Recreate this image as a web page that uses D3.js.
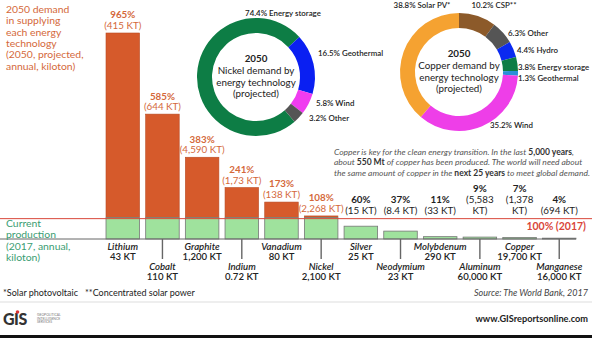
<!DOCTYPE html>
<html>
<head>
<meta charset="utf-8">
<script src="https://cdn.jsdelivr.net/npm/d3@7"></script>
<style>
  body { margin: 0; background: #fff; }
  svg { display: block; font-family: Lato, "Open Sans", sans-serif; }
</style>
</head>
<body>
<div id="vis"></div>
<script>
const FRAME_WIDTH = 592;
const FRAME_HEIGHT = 338;

// minerals, 2050 demand as % of 2017 production
const MINERALS = ["Lithium", "Cobalt", "Graphite", "Indium", "Vanadium", "Nickel",
                  "Silver", "Neodymium", "Molybdenum", "Aluminum", "Copper", "Manganese"];
const DEMAND_PCT = [965, 585, 383, 241, 173, 108, 60, 37, 11, 9, 7, 4];
const DEMAND_KT = ["415 KT", "644 KT", "4,590 KT", "1,73 KT", "138 KT", "2,268 KT",
                   "15 KT", "8.4 KT", "33 KT", "5,583\nKT", "1,378\nKT", "694 KT"];
const CURRENT_KT = ["43 KT", "110 KT", "1,200 KT", "0.72 KT", "80 KT", "2,100 KT",
                    "25 KT", "23 KT", "290 KT", "60,000 KT", "19,700 KT", "16,000 KT"];

// donuts
const NICKEL_USES = ["Energy storage", "Geothermal", "Wind", "Other"];
const NICKEL_PCT = [74.4, 16.5, 5.8, 3.2];
const COPPER_USES = ["CSP**", "Other", "Hydro", "Energy storage", "Geothermal", "Wind", "Solar PV*"];
const COPPER_PCT = [10.2, 6.3, 4.4, 3.8, 1.3, 35.2, 38.8];

const ORANGE = "#d65a2b";
const ORANGE_TXT = "#d4683a";
const GREEN_TXT = "#3a9d72";
const LIGHT_GREEN = "#9fe29d";

const svg = d3.select("#vis").append("svg")
  .attr("width", FRAME_WIDTH)
  .attr("height", FRAME_HEIGHT);

const X_SCALE = d3.scaleBand()
  .domain(MINERALS)
  .range([106, 576])
  .paddingInner(0.155)
  .paddingOuter(0);

const BASE_Y = 239;
const Y_SCALE = d3.scaleLinear()
  .domain([0, 965])
  .range([BASE_Y, 33]);

const data = MINERALS.map((m, i) => ({
  name: m, pct: DEMAND_PCT[i], demand: DEMAND_KT[i], current: CURRENT_KT[i], i: i
}));

// orange part (above 100%)
svg.selectAll("rect.over")
  .data(data.filter(d => d.pct > 100))
  .enter().append("rect")
    .attr("class", "over")
    .attr("x", d => X_SCALE(d.name))
    .attr("y", d => Y_SCALE(d.pct))
    .attr("width", X_SCALE.bandwidth())
    .attr("height", d => Y_SCALE(100) - Y_SCALE(d.pct))
    .attr("fill", ORANGE)
    .attr("stroke", "#b84a22")
    .attr("stroke-width", 0.6);

// green part (up to 100%)
svg.selectAll("rect.under")
  .data(data)
  .enter().append("rect")
    .attr("class", "under")
    .attr("x", d => X_SCALE(d.name))
    .attr("y", d => Y_SCALE(Math.min(100, d.pct)))
    .attr("width", X_SCALE.bandwidth())
    .attr("height", d => BASE_Y - Y_SCALE(Math.min(100, d.pct)))
    .attr("fill", LIGHT_GREEN)
    .attr("stroke", "#777")
    .attr("stroke-width", 0.8);

// 100% line and baseline
svg.append("line")
  .attr("x1", 0).attr("x2", FRAME_WIDTH)
  .attr("y1", Y_SCALE(100) + 1).attr("y2", Y_SCALE(100) + 1)
  .attr("stroke", "#d9463a").attr("stroke-width", 1);

svg.append("line")
  .attr("x1", 0).attr("x2", 576)
  .attr("y1", BASE_Y).attr("y2", BASE_Y)
  .attr("stroke", "#666").attr("stroke-width", 1);

svg.append("text")
  .attr("x", 586).attr("y", 230)
  .attr("text-anchor", "end")
  .attr("font-size", 10.5).attr("font-weight", "bold")
  .attr("fill", "#d9463a")
  .text("100% (2017)");

// value labels above bars
const labels = svg.selectAll("g.lab")
  .data(data)
  .enter().append("g")
    .attr("class", "lab")
    .attr("transform", d => "translate(" + (X_SCALE(d.name) + X_SCALE.bandwidth() / 2) + "," +
          (Math.min(Y_SCALE(d.pct), Y_SCALE(100)) - 4) + ")");

labels.each(function(d) {
  const lines = [d.pct + "%"].concat(("(" + d.demand + ")").split("\n"));
  const col = d.pct > 100 ? ORANGE_TXT : "#222";
  d3.select(this).selectAll("text")
    .data(lines)
    .enter().append("text")
      .attr("y", (l, j) => (j - lines.length + 1) * 10.6)
      .attr("text-anchor", "middle")
      .attr("font-size", 9.8)
      .attr("font-weight", (l, j) => j === 0 ? "bold" : "normal")
      .attr("fill", col)
      .text(l => l);
});

// names below bars, alternating rows
svg.selectAll("line.tick")
  .data(data.filter(d => d.i % 2 === 1))
  .enter().append("line")
    .attr("x1", d => X_SCALE(d.name) + X_SCALE.bandwidth() / 2)
    .attr("x2", d => X_SCALE(d.name) + X_SCALE.bandwidth() / 2)
    .attr("y1", BASE_Y).attr("y2", 259)
    .attr("stroke", "#666").attr("stroke-width", 1.4);

const names = svg.selectAll("g.nm")
  .data(data)
  .enter().append("g")
    .attr("class", "nm")
    .attr("transform", d => "translate(" + (X_SCALE(d.name) + X_SCALE.bandwidth() / 2) + "," +
          (d.i % 2 === 0 ? 249.5 : 269.5) + ")");

names.append("text")
  .attr("text-anchor", "middle")
  .attr("font-size", 9.6)
  .attr("font-style", "italic")
  .attr("font-weight", 600)
  .attr("fill", "#222")
  .text(d => d.name);

names.append("text")
  .attr("y", 10)
  .attr("text-anchor", "middle")
  .attr("font-size", 9.6)
  .attr("font-weight", 600)
  .attr("fill", "#222")
  .text(d => d.current);

// left side titles
const topTitle = ["2050 demand", "in supplying", "each energy", "technology", "(2050, projected,", "annual, kiloton)"];
svg.selectAll("text.tt")
  .data(topTitle)
  .enter().append("text")
    .attr("class", "tt")
    .attr("x", 6)
    .attr("y", (d, i) => 13 + i * 11.3)
    .attr("font-size", 10.4)
    .attr("fill", ORANGE_TXT)
    .text(d => d);

const botTitle = ["Current", "production", "(2017, annual,", "kiloton)"];
svg.selectAll("text.bt")
  .data(botTitle)
  .enter().append("text")
    .attr("class", "bt")
    .attr("x", 6)
    .attr("y", (d, i) => 227 + i * 11 + (i > 1 ? 1 : 0))
    .attr("font-size", 10.4)
    .attr("fill", GREEN_TXT)
    .text(d => d);

// donut charts
function donut(cx, cy, rOut, rIn, values, names, colors, startDeg, title, labelPos) {
  const pie = d3.pie().sort(null)
    .startAngle(startDeg * Math.PI / 180)
    .endAngle(startDeg * Math.PI / 180 + 2 * Math.PI);
  const arc = d3.arc().innerRadius(rIn).outerRadius(rOut);
  const g = svg.append("g").attr("transform", "translate(" + cx + "," + cy + ")");
  g.selectAll("path")
    .data(pie(values))
    .enter().append("path")
      .attr("d", arc)
      .attr("fill", (d, i) => colors[i]);
  g.selectAll("text.ct")
    .data(title)
    .enter().append("text")
      .attr("class", "ct")
      .attr("y", (d, i) => -15 + i * 11.8)
      .attr("text-anchor", "middle")
      .attr("font-size", 9.8)
      .attr("font-weight", (d, i) => i === 0 ? "bold" : "normal")
      .attr("fill", "#222")
      .text(d => d);
  values.forEach((v, i) => {
    const p = labelPos[i];
    svg.append("text")
      .attr("x", p[0]).attr("y", p[1])
      .attr("text-anchor", p[2])
      .attr("font-size", 7.9)
      .attr("font-weight", 600)
      .attr("fill", "#222")
      .text(v + "% " + names[i]);
  });
}

donut(256, 77, 59, 44, NICKEL_PCT, NICKEL_USES,
      ["#0d7d45", "#0a1ff2", "#f03cf0", "#555555"],
      47 - 74.4 * 3.6,
      ["2050", "Nickel demand by", "energy technology", "(projected)"],
      [[283, 16, "middle"], [318, 56, "start"], [316, 106, "start"], [309, 121, "start"]]);

donut(459, 72, 59, 44, COPPER_PCT, COPPER_USES,
      ["#8c5a2a", "#555555", "#0a2af0", "#0d7d45", "#2a8fd8", "#ee3ee8", "#f5a231"],
      0,
      ["2050", "Copper demand by", "energy technology", "(projected)"],
      [[494, 8, "middle"], [508, 36, "start"], [517, 53, "start"], [518, 70, "start"],
       [518, 81, "start"], [490, 128, "start"], [422, 8, "middle"]]);

// copper paragraph
const para = svg.append("g").attr("font-size", 8.5).attr("fill", "#555").attr("font-style", "italic");
const paraLines = [
  [["Copper is key for the clean energy transition. In the last ", false], ["5,000 years", true], [",", false]],
  [["about ", false], ["550 Mt", true], [" of copper has been produced. The world will need about", false]],
  [["the same amount of copper in the ", false], ["next 25 years", true], [" to meet global demand.", false]]
];
paraLines.forEach((ln, i) => {
  const t = para.append("text").attr("x", 334).attr("y", 155 + i * 10.4);
  ln.forEach(s => {
    t.append("tspan")
      .attr("font-weight", s[1] ? "bold" : "normal")
      .attr("font-style", s[1] ? "normal" : "italic")
      .attr("fill", s[1] ? "#333" : "#555")
      .text(s[0]);
  });
});

// footer
svg.append("text").attr("x", 3).attr("y", 296).attr("font-size", 9).attr("fill", "#222")
  .text("*Solar photovoltaic");
svg.append("text").attr("x", 85).attr("y", 296).attr("font-size", 9).attr("fill", "#222")
  .text("**Concentrated solar power");
svg.append("text").attr("x", 588).attr("y", 296).attr("font-size", 9)
  .attr("font-style", "italic").attr("fill", "#444").attr("text-anchor", "end")
  .text("Source: The World Bank, 2017");

svg.append("line").attr("x1", 0).attr("x2", FRAME_WIDTH).attr("y1", 302).attr("y2", 302)
  .attr("stroke", "#ddd").attr("stroke-width", 1);

const logo = svg.append("g").attr("transform", "translate(3,325)");
logo.append("text").attr("font-size", 16).attr("font-weight", 900)
  .attr("fill", "#333").attr("letter-spacing", -0.5).text("GIS");
logo.append("circle").attr("cx", 14.5).attr("cy", -13).attr("r", 1.8).attr("fill", "#d33");
["GEOPOLITICAL", "INTELLIGENCE", "SERVICES"].forEach((s, i) => {
  logo.append("text").attr("x", 34).attr("y", -9 + i * 3.6)
    .attr("font-size", 3.4).attr("fill", "#777").text(s);
});

svg.append("text").attr("x", 588).attr("y", 322).attr("font-size", 9.2)
  .attr("font-weight", "bold").attr("fill", "#222").attr("text-anchor", "end")
  .text("www.GISreportsonline.com");

svg.append("rect").attr("x", 0).attr("y", 335).attr("width", FRAME_WIDTH).attr("height", 3)
  .attr("fill", "#111");
</script>
</body>
</html>
